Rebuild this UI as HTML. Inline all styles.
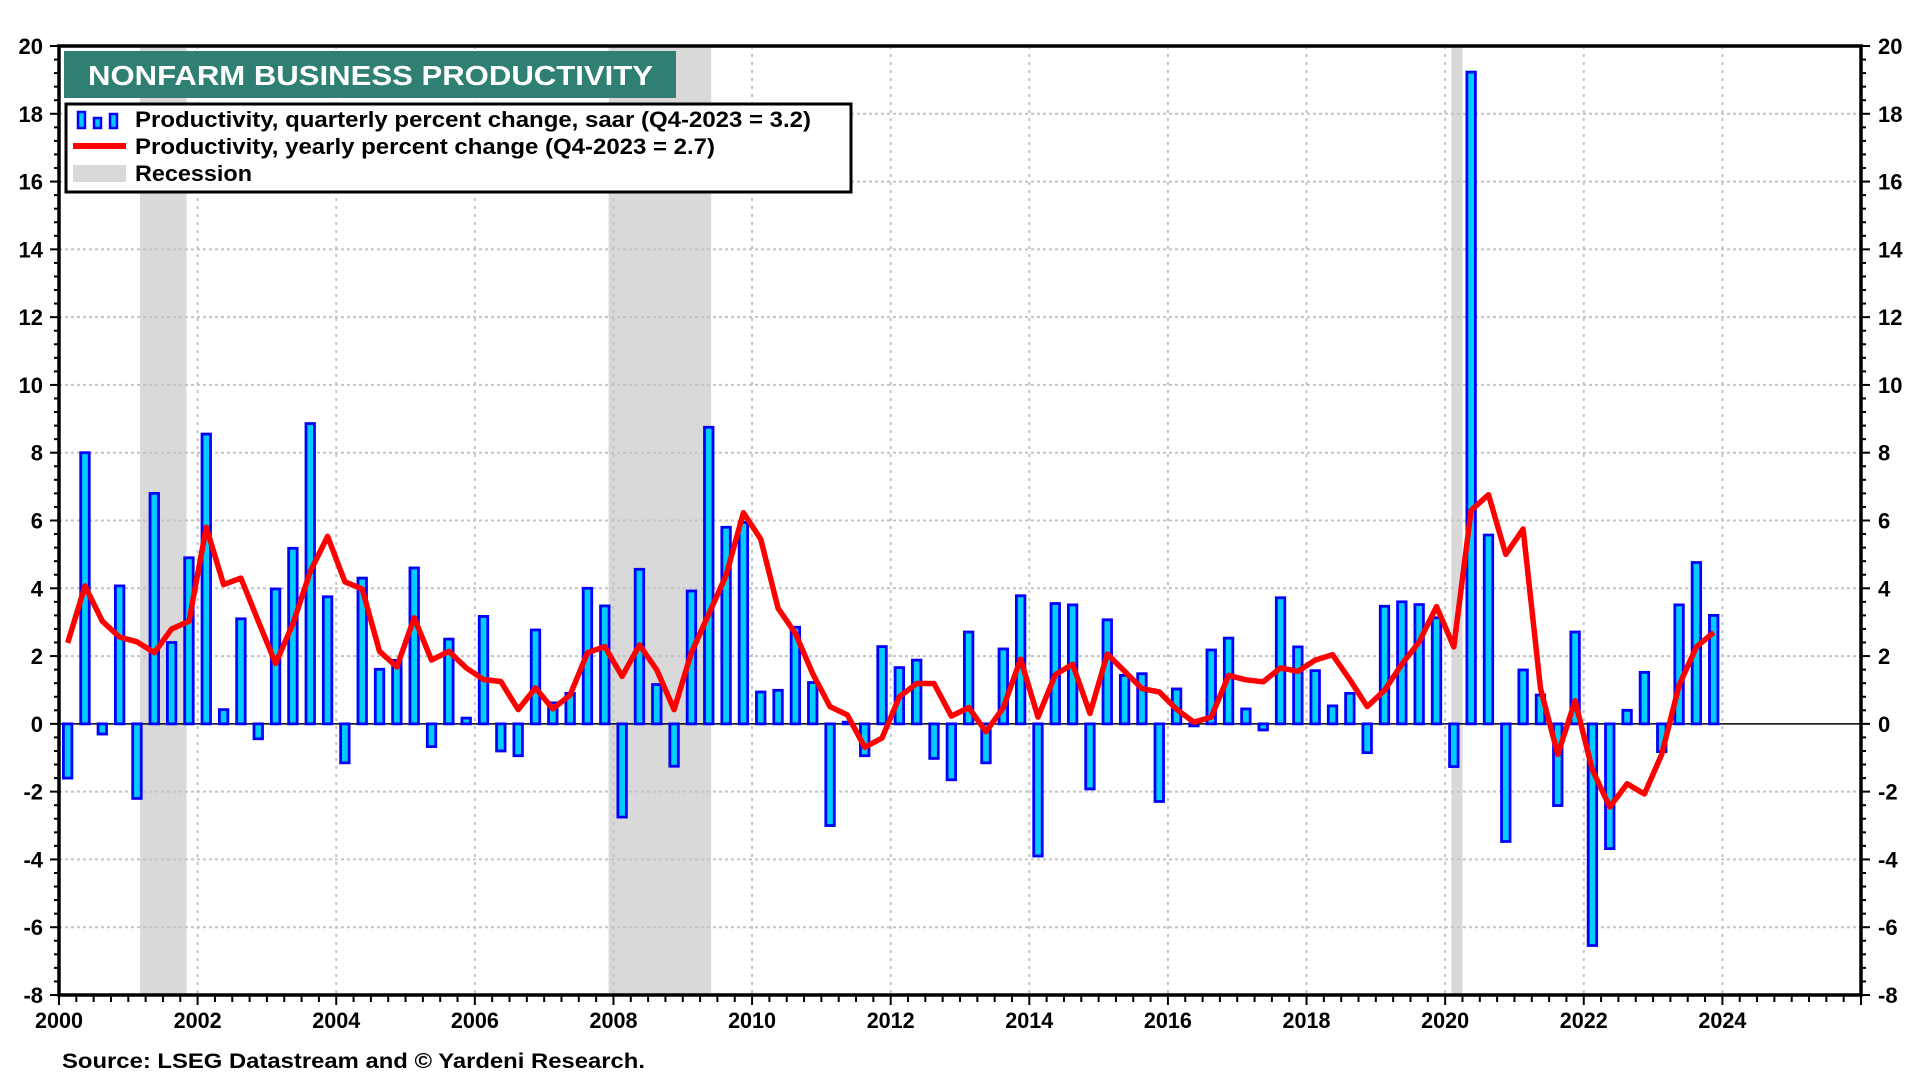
<!DOCTYPE html>
<html><head><meta charset="utf-8"><style>
html,body{margin:0;padding:0;background:#fff;}
svg{display:block;font-family:"Liberation Sans",Arial,sans-serif;font-weight:bold;}
</style></head><body>
<svg id="chart" width="1920" height="1080" viewBox="0 0 1920 1080" xmlns="http://www.w3.org/2000/svg">
<g id="bands"></g>
<g id="grid"></g>
<line id="zero" stroke="#000" stroke-width="1.5"/>
<g id="bars"></g>
<polyline id="yoy" fill="none" stroke="#ff0000" stroke-width="5.5" stroke-linejoin="round"/>
<g id="axes"></g>
<g>
<rect x="64" y="51" width="612" height="47" fill="#2f7f72"/>
<text x="88" y="85" fill="#fff" font-size="28" textLength="565" lengthAdjust="spacingAndGlyphs">NONFARM BUSINESS PRODUCTIVITY</text>
</g>
<g>
<rect x="66" y="104" width="785" height="88" fill="#fff" stroke="#000" stroke-width="3"/>
<g>
<rect x="78" y="112" width="7" height="16" fill="#00ccff" stroke="#0000ff" stroke-width="2.5"/>
<rect x="94" y="118" width="7" height="10" fill="#00ccff" stroke="#0000ff" stroke-width="2.5"/>
<rect x="110" y="114" width="7" height="14" fill="#00ccff" stroke="#0000ff" stroke-width="2.5"/>
</g>
<line x1="73" y1="146" x2="126" y2="146" stroke="#ff0000" stroke-width="6"/>
<rect x="73" y="165" width="53" height="17" fill="#d9d9d9"/>
<text x="135" y="127" font-size="22" textLength="676" lengthAdjust="spacingAndGlyphs">Productivity, quarterly percent change, saar (Q4-2023 = 3.2)</text>
<text x="135" y="154" font-size="22" textLength="580" lengthAdjust="spacingAndGlyphs">Productivity, yearly percent change (Q4-2023 = 2.7)</text>
<text x="135" y="181" font-size="22" textLength="117" lengthAdjust="spacingAndGlyphs">Recession</text>
</g>
<text x="62" y="1068" font-size="21" textLength="583" lengthAdjust="spacingAndGlyphs">Source: LSEG Datastream and © Yardeni Research.</text>
</svg>
<script>
const quarterly = [-1.6,8.0,-0.3,4.07, -2.2,6.8,2.4,4.9, 8.55,0.42,3.1,-0.44, 3.98,5.18,8.86,3.75,
 -1.15,4.3,1.61,1.87, 4.6,-0.67,2.5,0.17, 3.17,-0.8,-0.94,2.77, 0.62,0.9,4.0,3.48,
 -2.75,4.56,1.16,-1.25, 3.92,8.75,5.8,5.94, 0.94,0.99,2.85,1.22, -3.0,0.05,-0.94,2.28,
 1.66,1.88,-1.02,-1.65, 2.71,-1.15,2.21,3.78, -3.9,3.55,3.51,-1.92, 3.07,1.43,1.48,-2.29,
 1.03,-0.06,2.18,2.53, 0.44,-0.18,3.72,2.27, 1.57,0.53,0.9,-0.85, 3.47,3.6,3.52,3.13,
 -1.26,19.23,5.57,-3.47, 1.59,0.85,-2.41,2.71, -6.54,-3.68,0.4,1.52, -0.82,3.51,4.76,3.2];
const yearly = [2.39,4.07,3.03,2.56, 2.42,2.1,2.8,3.03, 5.8,4.11,4.3,3.03, 1.78,2.95,4.49,5.53,
 4.19,3.98,2.14,1.68, 3.13,1.88,2.14,1.65, 1.31,1.25,0.42,1.06, 0.44,0.85,2.1,2.28,
 1.4,2.33,1.59,0.42, 2.1,3.24,4.38,6.23, 5.45,3.41,2.67,1.48, 0.51,0.26,-0.69,-0.42,
 0.8,1.19,1.19,0.23, 0.48,-0.23,0.48,1.91, 0.2,1.45,1.76,0.31, 2.06,1.55,1.04,0.94,
 0.43,0.05,0.2,1.43, 1.3,1.24,1.65,1.55, 1.88,2.04,1.3,0.51, 0.99,1.76,2.42,3.46,
 2.27,6.3,6.76,5.0, 5.75,1.04,-0.9,0.68, -1.36,-2.45,-1.77,-2.07, -0.9,1.14,2.27,2.7];
const startYear = 2000;
const recessionStarts = [2001.17, 2007.93, 2020.09];
const recessionEnds = [2001.84, 2009.41, 2020.25];
const yTicks = [-8,-6,-4,-2,0,2,4,6,8,10,12,14,16,18,20];
const xTicks = [2000,2002,2004,2006,2008,2010,2012,2014,2016,2018,2020,2022,2024];

const L=59, R=1861, T=46, B=995, X0=2000, X1=2026, Y0=-8, Y1=20;
const xs = v => L + (v - X0) / (X1 - X0) * (R - L);
const ys = v => B - (v - Y0) / (Y1 - Y0) * (B - T);
const NS = "http://www.w3.org/2000/svg";
function mk(tag, parent, attrs){const e=document.createElementNS(NS,tag);for(const k in attrs)e.setAttribute(k,attrs[k]);parent.appendChild(e);return e;}

const bands=document.getElementById('bands');
recessionStarts.forEach((s,i)=>{
  const r=mk('rect',bands,{x:xs(s),y:T,width:xs(recessionEnds[i])-xs(s),height:B-T,fill:'#d9d9d9'});
  
  
});
const grid=document.getElementById('grid');
yTicks.forEach(v=>{ if(v===Y0||v===Y1||v===0) return;
  const l=mk('line',grid,{x1:L,x2:R,y1:ys(v),y2:ys(v),stroke:'#c4c4c4','stroke-width':2,'stroke-dasharray':'3 3'});
  
  
});
xTicks.forEach(v=>{ if(v===X0) return;
  const l=mk('line',grid,{x1:xs(v),x2:xs(v),y1:T,y2:B,stroke:'#c4c4c4','stroke-width':2,'stroke-dasharray':'3 5'});
  
  
});
const z=document.getElementById('zero');
z.setAttribute('x1',L);z.setAttribute('x2',R);z.setAttribute('y1',ys(0));z.setAttribute('y2',ys(0));

const bars=document.getElementById('bars');
const bw=8.5;
quarterly.forEach((v,i)=>{
  const cx=xs(startYear+(i+0.5)/4);
  const y1=ys(Math.max(v,0)), y2=ys(Math.min(v,0));
  const r=mk('rect',bars,{x:cx-bw/2,y:y1,width:bw,height:Math.max(y2-y1,1),fill:'#00ccff',stroke:'#0000ff','stroke-width':2.8});
  
  
});
document.getElementById('yoy').setAttribute('points',yearly.map((v,i)=>xs(startYear+(i+0.5)/4).toFixed(1)+','+ys(v).toFixed(1)).join(' '));

const ax=document.getElementById('axes');
mk('rect',ax,{x:L,y:T,width:R-L,height:B-T,fill:'none',stroke:'#000','stroke-width':3.5});
for(let v=Y0; v<=Y1+0.001; v+=0.4){
  const major=Math.abs(v-Math.round(v))<0.01 && Math.round(v)%2===0;
  const len=major?9:5;
  mk('line',ax,{x1:L-len,x2:L,y1:ys(v),y2:ys(v),stroke:'#000','stroke-width':2});
  mk('line',ax,{x1:R,x2:R+len,y1:ys(v),y2:ys(v),stroke:'#000','stroke-width':2});
}
for(let q=0;q<=(X1-X0)*4;q++){
  const major=q%8===0;
  mk('line',ax,{x1:xs(X0+q/4),x2:xs(X0+q/4),y1:B,y2:B+(major?10:7),stroke:'#000','stroke-width':2});
}
yTicks.forEach(v=>{
  const t=mk('text',ax,{x:43,y:ys(v)+8,'font-size':22,'text-anchor':'end'});
  t.textContent=String(v);
  
  
  const t2=mk('text',ax,{x:1878,y:ys(v)+8,'font-size':22,'text-anchor':'start'});
  t2.textContent=String(v);
  
  
});
xTicks.forEach(v=>{
  const t=mk('text',ax,{x:xs(v),y:1028,'font-size':22,'text-anchor':'middle',textLength:48,lengthAdjust:'spacingAndGlyphs'});
  t.textContent=String(v);
  
  
});
</script>
</body></html>
